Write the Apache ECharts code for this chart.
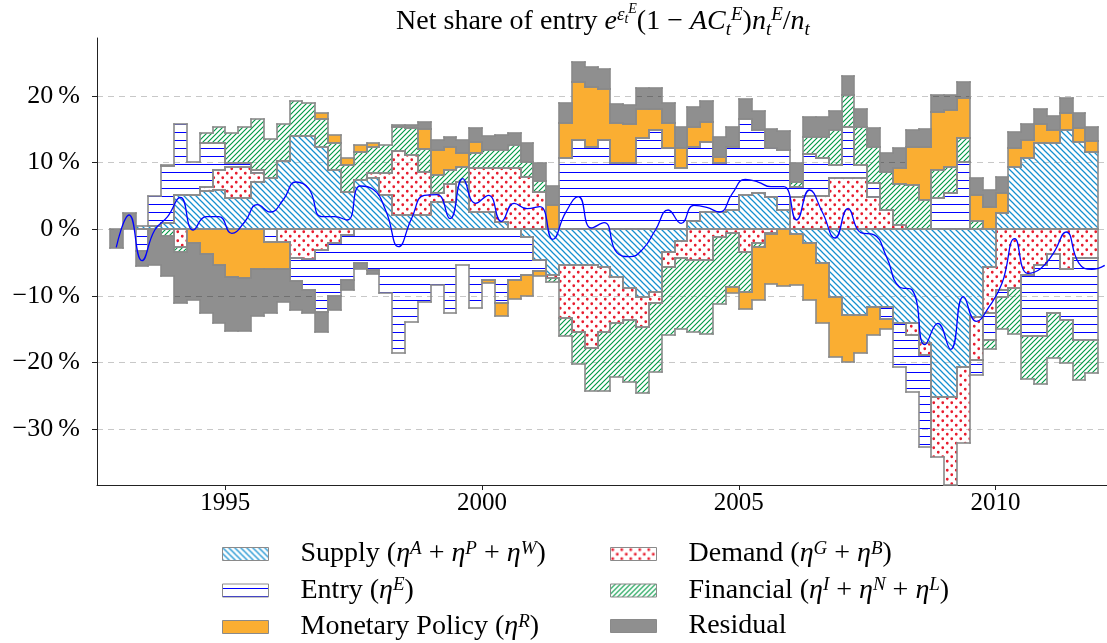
<!DOCTYPE html>
<html>
<head>
<meta charset="utf-8">
<title>Net share of entry</title>
<script src="https://cdn.jsdelivr.net/npm/echarts@6/dist/echarts.min.js"></script>
<style>
  html, body { margin: 0; padding: 0; background: #fff; }
  #chart { width: 1107px; height: 643px; }
</style>
</head>
<body>
<div id="chart"></div>
<script>
// one bar per quarter, first quarter starts at 1992.75
const firstQuarter = 1992.75
const quarterLen = 0.25

const supply = [0, 0, 0.5, 0.5, 0.9, 5.15, 5.15, 5.8, 5.9, 4.65,
  4.65, 7.15, 7.65, 10.3, 14, 14, 12.4, 8.9, 5.65, 7.4,
  7.65, 5.15, 2.15, 2.15, 2.15, 4.15, 4.15, 7.15, 2.65, 2.65,
  1.15, 0, -1.1, -4.6, -6.85, -5.35, -5.35, -5.35, -5.7, -7.1,
  -8.85, -10.1, -9.35, -3.35, -1.7, 1.3, 2.65, 2.65, 2.9, 5.15,
  5.4, 4.9, 2.9, -0.7, -2.1, -5.1, -10.1, -12.85, -12.85, -11.6,
  -11.6, -14, -14, -17.1, -25.1, -25.1, -20.6, -13.1, -5.6, 2.4,
  9.3, 10.65, 12.9, 12.9, 14.9, 13.15, 11.65]
const demand = [0, 0, 0, 0, 0, -2.6, 0, 0.6, 3.0, 4.75,
  4.75, 1.25, 0, -1.9, -4.35, -4.5, -3.1, -2.1, -0.85, 0,
  0.75, 3.35, 9.65, 9.0, 6.5, 1.25, 2.65, 0, 6.5, 6.5,
  8.0, 9.15, 7.9, 5.65, -0.5, -8.0, -10.0, -12.5, -9.65, -7.0,
  -4.75, -4.5, -1.75, -2.35, -2.65, -4.6, -4.6, -1.1, -0.6, -3.35,
  -2.1, -0.5, 0, 4.9, 5.0, 5.0, 7.65, 7.65, 7.65, 4.9,
  2.9, 0.65, -1.85, -1.75, -9.0, -13.5, -11.5, -6.5, -7.0, -9.1,
  -8.85, -6.85, -5.35, -3.7, -6.0, -4.35, -4.35]
const entry = [0, 0, -3.3, 4.55, 8.6, 10.6, 5.0, 6.5, 4.0, 0.5,
  0.5, 0.5, -1.85, 0, -3.35, -4.6, -9.25, -7.9, -6.75, -5.1,
  -6.1, -9.6, -18.5, -13.85, -10.85, -8.35, -12.5, -5.35, -11.85, -7.6,
  -11.1, -7.6, -5.75, -1.6, 0, 10.65, 13.4, 12.3, 13.4, 9.9,
  9.9, 13.65, 14.9, 12.15, 9.15, 11.0, 10.5, 7.25, 9.4, 11.35,
  9.5, 7.25, 9.0, 1.5, 6.3, 5.65, 2.0, 7.75, 2.0, 2.0,
  -1.9, -6.6, -8.5, -13.75, 4.65, 5.4, 10.15, -2.25, -4.0, -1.0,
  0, -9.15, -10.65, -8.8, -7.6, -12.25, -12.25]
const financial = [0, 0, 0, 0, -1.0, -0.75, 0, 1.5, 2.5, 4.6,
  5.5, 7.6, 5.9, 5.5, 5.3, 5.0, 4.1, 4.0, 4.0, 4.25,
  3.9, 4.15, 3.6, 4.0, 3.35, 2.75, 2.1, 2.15, 2.35, 2.75,
  2.75, 3.5, 2.25, 1.65, -0.5, -2.65, -4.9, -6.4, -8.9, -8.0,
  -9.25, -10.0, -10.25, -10.15, -10.65, -10.75, -11.1, -10.1, -8.0, -6.0,
  -0.5, -0.25, 0, 0.75, 2.6, 3.25, 5.25, 4.75, 5.75, 5.5,
  5.75, 6.15, 6.65, 4.4, 4.25, 4.0, 3.5, 1.3, -1.3, -4.9,
  -6.85, -6.5, -7.2, -6.85, -6.5, -6.0, -5.0]
const monetary = [0, 0, 0, 0, 0.15, 0, -2.1, -3.7, -5.35, -7.2,
  -7.35, -6.0, -4.15, -4.1, 0, 0, 0.9, 1.25, 1.0, 1.0,
  0.6, 0, 0, 0, 3.0, 3.75, 3.4, 2.1, 1.65, -0.5,
  -1.9, -2.9, -3.15, -0.8, 3.65, 5.35, 8.75, 9.1, 7.6, 6.0,
  5.9, 4.4, 3.15, 3.75, 3.0, 3.1, 3.0, 1.0, -1.0, -2.65,
  -8.0, -7.5, -8.5, -7.65, -8.5, -9.0, -9.0, -7.0, -5.65, -4.25,
  -1.5, 2.35, 5.75, 8.0, 8.75, 8.5, 6.0, 3.85, 3.4, 3.1,
  2.85, 2.75, 2.9, 2.0, 2.5, 2.0, 1.6]
const residual = [-2.85, 2.5, -2.25, -5.35, -6.0, -7.75, -8.5, -8.8, -8.65, -8.05,
  -7.9, -7.0, -6.6, -4.85, -4.4, -3.5, -3.0, -2.1, -1.5, -0.9,
  -0.6, 0, 0.3, 0.5, 1.15, 1.5, 1.5, 2.0, 2.0, 2.1,
  2.25, 1.85, 2.75, 2.7, 2.85, 2.9, 2.9, 2.9, 3.0, 2.9,
  2.85, 3.1, 3.1, 3.0, 3.15, 3.0, 3.1, 2.9, 3.0, 3.0,
  2.9, 2.85, 2.9, 2.85, 2.9, 2.9, 2.9, 2.9, 2.6, 2.75,
  2.75, 3.0, 2.5, 2.6, 2.5, 2.25, 2.5, 2.5, 2.5, 2.4,
  2.5, 2.4, 2.25, 2.1, 2.25, 2.25, 2.15]
// total (blue line), one more point than the bars
const total = [-2.7, 2.15, -4.7, -0.1, 1.9, 4.8, -0.1, 1.9, 1.9, -0.6,
  1.1, 3.7, 2.6, 4.4, 7.1, 6.1, 1.9, 1.9, 1.4, 6.5,
  6.0, 2.8, -2.6, 1.6, 5.1, 5.2, 1.6, 7.6, 3.9, 5.1,
  1.2, 3.9, 3.1, 3.4, -1.5, 2.5, 4.9, 0.2, 1.0, -3.5,
  -4.1, -3.0, -0.1, 2.9, 0.9, 3.6, 3.3, 2.6, 5.4, 7.5,
  7.1, 6.4, 6.4, 1.4, 5.9, 2.6, -1.3, 3.1, -0.5, -0.8,
  -4.1, -8.6, -9.1, -17.3, -14.1, -18.0, -10.1, -13.8, -11.6, -8.1,
  -1.4, -6.6, -5.9, -3.6, -0.4, -5.1, -6.0, -5.4]

const yearTicks = [1995, 2000, 2005, 2010]
const pctTicks = [-30, -20, -10, 0, 10, 20]

const serif = 'Liberation Serif'
const outline = '#8a8a8a'

function tile(size) {
  const c = document.createElement('canvas')
  c.width = size
  c.height = size
  return c
}

function hatch(color, size, slash, width) {
  const c = tile(size)
  const g = c.getContext('2d')
  g.strokeStyle = color
  g.lineWidth = width
  g.beginPath()
  if (slash) {
    g.moveTo(-1, size + 1); g.lineTo(size + 1, -1)
    g.moveTo(-1, 1); g.lineTo(1, -1)
    g.moveTo(size - 1, size + 1); g.lineTo(size + 1, size - 1)
  } else {
    g.moveTo(-1, -1); g.lineTo(size + 1, size + 1)
    g.moveTo(size - 1, -1); g.lineTo(size + 1, 1)
    g.moveTo(-1, size - 1); g.lineTo(1, size + 1)
  }
  g.stroke()
  return { image: c, repeat: 'repeat' }
}

function hlines(color, size) {
  const c = tile(size)
  const g = c.getContext('2d')
  g.fillStyle = color
  g.fillRect(0, Math.floor(size / 2), size, 1)
  return { image: c, repeat: 'repeat' }
}

function dots(color, size, r) {
  const c = tile(size)
  const g = c.getContext('2d')
  g.fillStyle = color
  g.beginPath()
  g.arc(size / 4, size / 4, r, 0, Math.PI * 2)
  g.closePath()
  g.arc(size * 3 / 4, size * 3 / 4, r, 0, Math.PI * 2)
  g.fill()
  return { image: c, repeat: 'repeat' }
}

// stacking order from zero outward
const parts = [
  { name: 'Supply', values: supply, fill: hatch('#1690d0', 6, false, 1.25) },
  { name: 'Demand', values: demand, fill: dots('#e81c2e', 9, 1.4) },
  { name: 'Entry', values: entry, fill: hlines('#0000ff', 8) },
  { name: 'Financial', values: financial, fill: hatch('#009945', 5, true, 1.15) },
  { name: 'Monetary Policy', values: monetary, fill: '#faae32' },
  { name: 'Residual', values: residual, fill: 'rgba(0,0,0,0.44)' }
]

const n = supply.length
const posAcc = new Array(n).fill(0)
const negAcc = new Array(n).fill(0)
parts.forEach(p => {
  p.seg = p.values.map((v, i) => {
    if (v >= 0) {
      const s = [posAcc[i], posAcc[i] + v]
      posAcc[i] += v
      return s
    }
    const s = [negAcc[i] + v, negAcc[i]]
    negAcc[i] += v
    return s
  })
})

function renderPart(fill) {
  return function(params, api) {
    const x0 = api.value(0)
    const x1 = api.value(1)
    const lo = api.value(2)
    const hi = api.value(3)
    if (hi - lo < 1e-9) return null
    const cs = params.coordSys
    const py = v => Math.round(Math.max(cs.y, Math.min(cs.y + cs.height, api.coord([x0, v])[1])))
    const xl = Math.round(api.coord([x0, 0])[0])
    const xr = Math.round(api.coord([x1, 0])[0])
    const yt = py(hi)
    const yb = py(lo)
    const children = [{
      type: 'rect',
      shape: { x: xl, y: yt, width: xr - xl, height: yb - yt },
      style: { fill: fill },
      z2: 1
    }]
    const edge = (ax, ay, bx, by) => children.push({
      type: 'line',
      shape: { x1: ax, y1: ay, x2: bx, y2: by },
      style: { stroke: outline, lineWidth: 1.6, lineCap: 'square' },
      z2: 10
    })
    edge(xl, yt, xr, yt)
    edge(xl, yb, xr, yb)
    // vertical sides only where the neighbouring quarter does not continue the region
    const side = (x, nlo, nhi) => {
      if (lo < nlo) edge(x, py(Math.min(hi, nlo)), x, py(lo))
      if (hi > nhi) edge(x, py(hi), x, py(Math.max(lo, nhi)))
    }
    side(xl, api.value(4), api.value(5))
    side(xr, api.value(6), api.value(7))
    return { type: 'group', children: children }
  }
}

const partSeries = parts.map(p => ({
  type: 'custom',
  name: p.name,
  z: 2,
  renderItem: renderPart(p.fill),
  itemStyle: { color: p.fill, borderColor: outline, borderWidth: 1 },
  encode: { x: [0, 1], y: [2, 3] },
  data: p.seg.map((s, i) => {
    const prev = i > 0 ? p.seg[i - 1] : [0, 0]
    const next = i < n - 1 ? p.seg[i + 1] : [0, 0]
    const x0 = firstQuarter + i * quarterLen
    return [x0, x0 + quarterLen, s[0], s[1], prev[0], prev[1], next[0], next[1]]
  })
}))

const lineSeries = {
  type: 'line',
  name: 'Total',
  z: 5,
  smooth: 0.5,
  symbol: 'none',
  clip: true,
  lineStyle: { color: '#0000ff', width: 1.3 },
  data: total.map((v, i) => [firstQuarter + (i + 0.5) * quarterLen, v])
}

const legendRich = {
  f: { fontFamily: serif, fontSize: 28, lineHeight: 30, color: '#000', padding: [0, 0, 0, 27] },
  r: { fontFamily: serif, fontSize: 28, lineHeight: 30, color: '#000' },
  i: { fontFamily: serif, fontSize: 28, lineHeight: 30, color: '#000', fontStyle: 'italic' },
  p: { fontFamily: serif, fontSize: 19, lineHeight: 19, color: '#000', fontStyle: 'italic', verticalAlign: 'top' }
}
const legendLabels = {
  'Supply': '{f|Supply (}{i|η}{p|A}{r| + }{i|η}{p|P}{r| + }{i|η}{p|W}{r|)}',
  'Demand': '{f|Demand (}{i|η}{p|G}{r| + }{i|η}{p|B}{r|)}',
  'Entry': '{f|Entry (}{i|η}{p|E}{r|)}',
  'Financial': '{f|Financial (}{i|η}{p|I}{r| + }{i|η}{p|N}{r| + }{i|η}{p|L}{r|)}',
  'Monetary Policy': '{f|Monetary Policy (}{i|η}{p|R}{r|)}',
  'Residual': '{f|Residual}'
}
const legendBase = {
  orient: 'vertical',
  top: 539,
  height: 112,
  padding: 0,
  itemWidth: 46,
  itemHeight: 13,
  itemGap: 7.5,
  icon: 'rect',
  selectedMode: false,
  itemStyle: { borderColor: outline, borderWidth: 1 },
  formatter: name => legendLabels[name],
  textStyle: { rich: legendRich }
}

const titleRich = {
  r: { fontFamily: serif, fontSize: 28, lineHeight: 40, color: '#000' },
  i: { fontFamily: serif, fontSize: 28, lineHeight: 40, color: '#000', fontStyle: 'italic' },
  s: { fontFamily: serif, fontSize: 19, lineHeight: 19, color: '#000', fontStyle: 'italic', verticalAlign: 'top', padding: [3.5, 0, 0, 0] },
  b: { fontFamily: serif, fontSize: 19, lineHeight: 19, color: '#000', fontStyle: 'italic', verticalAlign: 'top', padding: [19, 0, 0, 0] },
  t: { fontFamily: serif, fontSize: 14, lineHeight: 14, color: '#000', fontStyle: 'italic', verticalAlign: 'top', padding: [11.2, 0, 0, 0] },
  e: { fontFamily: serif, fontSize: 14, lineHeight: 14, color: '#000', fontStyle: 'italic', verticalAlign: 'top', padding: [0.7, 0, 0, 0] }
}
const titleText = '{r|Net share of entry }{i|e}{s|ε}{t|t}{e|E}{r|(1 − }{i|AC}{b|t}{s|E}{r|)}{i|n}{b|t}{s|E}{r|/}{i|n}{b|t}'

const chart = echarts.init(document.getElementById('chart'))
const option = {
  animation: false,
  backgroundColor: '#fff',
  textStyle: { fontFamily: serif },
  graphic: [{
    type: 'text',
    x: 603,
    y: 1.5,
    style: { text: titleText, rich: titleRich, align: 'center', verticalAlign: 'top' }
  }],
  legend: [
    Object.assign({}, legendBase, { left: 222, data: ['Supply', 'Entry', 'Monetary Policy'] }),
    Object.assign({}, legendBase, { left: 610, data: ['Demand', 'Financial', 'Residual'] })
  ],
  grid: { left: 97, right: 0, top: 38, bottom: 158 },
  xAxis: {
    type: 'value',
    min: 1992.5,
    max: 2012.17,
    axisLine: { onZero: false, lineStyle: { color: '#222', width: 1 } },
    axisTick: { customValues: yearTicks, length: 5, lineStyle: { color: '#222' } },
    axisLabel: {
      customValues: yearTicks,
      margin: 6,
      fontSize: 25,
      color: '#000',
      fontFamily: serif,
      formatter: v => String(v)
    },
    splitLine: { show: false }
  },
  yAxis: {
    type: 'value',
    min: -38.35,
    max: 28.7,
    axisLine: { show: true, onZero: false, lineStyle: { color: '#222', width: 1 } },
    axisTick: { show: true, customValues: pctTicks, length: 5, lineStyle: { color: '#222' } },
    axisLabel: {
      customValues: pctTicks,
      margin: 17,
      fontSize: 26,
      color: '#000',
      fontFamily: serif,
      formatter: v => (v < 0 ? '\u2212' : '') + Math.abs(v) + '\u2009%'
    },
    splitLine: { show: true, lineStyle: { color: '#c8c8c8', type: [6, 5], width: 1 } }
  },
  series: partSeries.concat([lineSeries])
}
chart.setOption(option)
</script>
</body>
</html>
